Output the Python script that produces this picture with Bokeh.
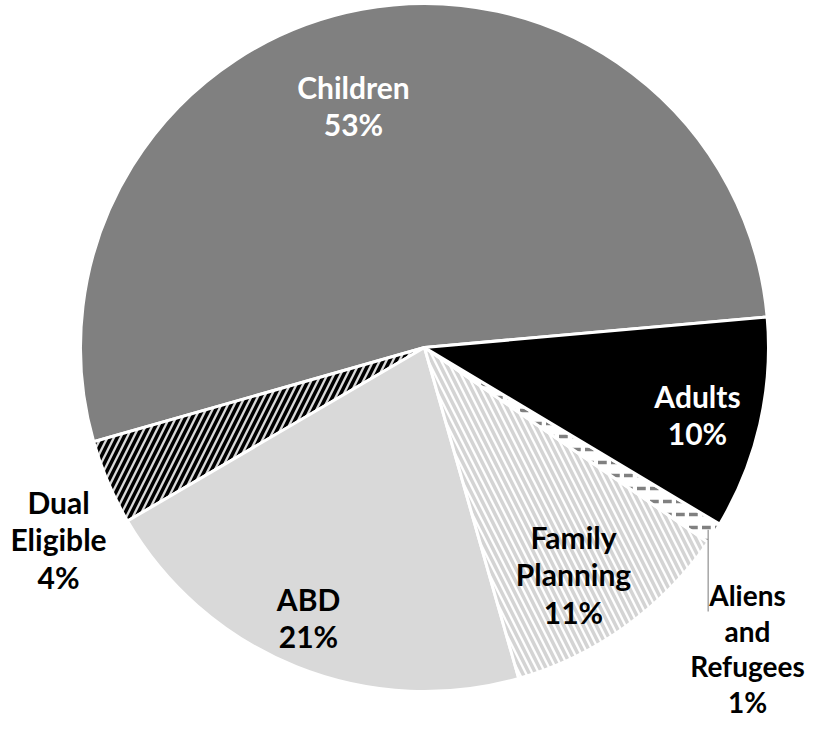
import math
from bokeh.plotting import figure
from bokeh.models import ColumnDataSource, Range1d
from bokeh.core.properties import value
from bokeh.embed import file_html
from bokeh.resources import INLINE

# ---- data ----
categories = ["Children", "Dual Eligible", "ABD", "Family Planning", "Aliens and Refugees", "Adults"]
label_text = ["Children", "Dual\nEligible", "ABD", "Family\nPlanning", "Aliens\nand\nRefugees", "Adults"]
shares = [53, 4, 21, 11, 1, 10]

# ---- styles ----
fill_colors = ["#808080", "#d9d9d9", "#d9d9d9", "#ffffff", "#ffffff", "#000000"]
hatch_patterns = [" ", "/", " ", "\\", '"', " "]
hatch_colors = ["#808080", "#000000", "#d9d9d9", "#d4d4d4", "#808080", "#000000"]
text_colors = ["white", "black", "black", "black", "black", "white"]
font_sizes = ["30px", "30px", "30px", "30px", "28px", "30px"]

# ---- layout ----
W, H = 809, 719
DX, DY = 6, -7
cx, cy, R = 418 + DX, 379 + DY, 344
start_deg = 5.1
label_x = [v + DX for v in [347, 52, 302, 567, 741, 691]]
label_y = [v + DY for v in [621, 187, 109, 152, 78, 312]]

starts, ends = [], []
acc = start_deg
for s in shares:
    a0 = acc
    acc += s * 3.6
    starts.append(math.radians(a0))
    ends.append(math.radians(acc))

src = ColumnDataSource(dict(
    x=[cx] * len(shares), y=[cy] * len(shares),
    start=starts, end=ends, fill=fill_colors,
    hpat=hatch_patterns, hcol=hatch_colors,
))

p = figure(width=W, height=H, x_range=Range1d(0, W), y_range=Range1d(0, H),
           output_backend="svg", toolbar_location=None, min_border=0,
           outline_line_color=None)
p.axis.visible = False
p.grid.visible = False

p.wedge(x="x", y="y", radius=R, start_angle="start", end_angle="end",
        fill_color="fill", hatch_pattern="hpat", hatch_color="hcol",
        hatch_scale=13, hatch_weight=3.5,
        line_color="white", line_width=3, source=src)

# leader line for the 1% slice
i = categories.index("Aliens and Refugees")
mid = (starts[i] + ends[i]) / 2
ex = cx + 0.98 * R * math.cos(mid)
ey = cy + 0.98 * R * math.sin(mid)
p.line(x=[ex, ex], y=[ey, 115 + DY], line_color="#a6a6a6", line_width=1.5)

texts = [f"{t}\n{s}%" for t, s in zip(label_text, shares)]
lsrc = ColumnDataSource(dict(x=label_x, y=label_y, t=texts, c=text_colors, fs=font_sizes))
p.text(x="x", y="y", text="t", text_color="c", text_font_size="fs", source=lsrc,
       text_font=value("Lato"), text_font_style="bold",
       text_align="center", text_baseline="middle", text_line_height=1.05)

open("out.html", "w").write(file_html(p, INLINE))
